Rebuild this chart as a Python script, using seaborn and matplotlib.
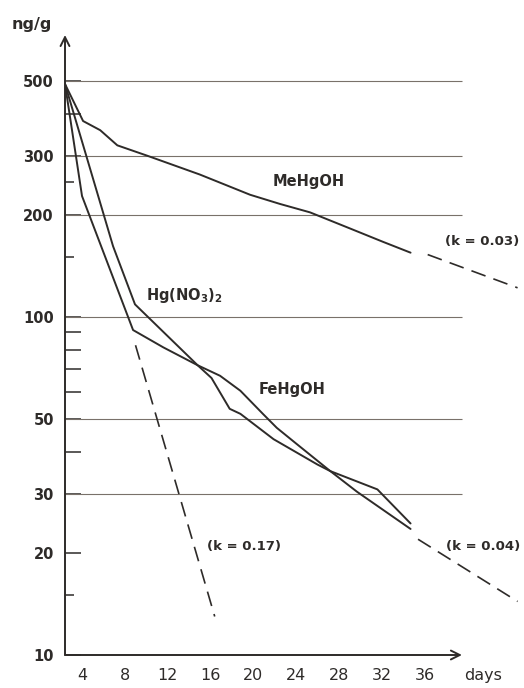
import matplotlib
matplotlib.use("Agg")
import matplotlib.pyplot as plt
from matplotlib.ticker import FixedLocator, NullFormatter, NullLocator
import seaborn as sns
import pandas as pd

# values (days, ng/g)
days_me = [2.41, 4.1, 5.7, 7.3, 10.1, 15.0, 19.7, 22.5, 25.3, 29.0, 32.1, 34.7]
conc_me = [489, 380, 357, 322, 300, 264, 230, 216, 204, 183, 167, 155]

days_hg = [2.41, 6.9, 8.95, 14.8, 16.1, 17.8, 18.8, 21.9, 26.0, 27.2, 29.7, 34.7]
conc_hg = [489, 162, 109, 72, 66, 53.5, 51.7, 43.5, 36.6, 35, 30.4, 23.6]

days_fe = [2.41, 4.0, 8.77, 11.6, 14.8, 16.9, 18.8, 20.9, 22.2, 24.1, 27.2, 31.6, 34.7]
conc_fe = [489, 228, 91.5, 81.3, 72, 67, 60.5, 51.7, 47, 42, 35, 30.9, 24.5]

# extrapolated first-order fits (dashed)
fit_me_days = [36.3, 44.7]
fit_me_conc = [153, 122]
fit_017_days = [9.0, 16.4]
fit_017_conc = [82.5, 13.0]
fit_004_days = [35.4, 44.7]
fit_004_conc = [22.0, 14.4]

xtick_vals = [4, 8, 12, 16, 20, 24, 28, 32, 36]
ytick_vals = [10, 20, 30, 50, 100, 200, 300, 500]
ytick_long = [40, 60, 70, 80, 90, 400]
ytick_short = [15, 150, 250]
grid_levels = [30, 50, 100, 200, 300, 500]

sns.set_theme(style="white")
plt.rcParams['font.family'] = ['DejaVu Sans']

ink = '#2e2b29'
grid_col = '#79716a'

df = pd.concat([
    pd.DataFrame({'day': days_me, 'conc': conc_me, 'series': 'MeHgOH'}),
    pd.DataFrame({'day': days_hg, 'conc': conc_hg, 'series': 'Hg(NO3)2'}),
    pd.DataFrame({'day': days_fe, 'conc': conc_fe, 'series': 'FeHgOH'}),
])
fits = pd.concat([
    pd.DataFrame({'day': fit_me_days, 'conc': fit_me_conc, 'series': 'k0.03'}),
    pd.DataFrame({'day': fit_017_days, 'conc': fit_017_conc, 'series': 'k0.17'}),
    pd.DataFrame({'day': fit_004_days, 'conc': fit_004_conc, 'series': 'k0.04'}),
])

fig = plt.figure(figsize=(5.24, 6.88), dpi=100)
ax = fig.add_axes([65 / 524, 1 - 655 / 688, (524 - 65) / 524, 625 / 688])
ax.set_yscale('log')
x0, x_end = 2.41, 39.5

ax.hlines(grid_levels, x0, x_end, color=grid_col, lw=0.8, zorder=1)

sns.lineplot(data=df, x='day', y='conc', units='series', estimator=None, sort=False,
             color=ink, lw=1.4, ax=ax, zorder=3)
sns.lineplot(data=fits, x='day', y='conc', units='series', estimator=None, sort=False,
             color=ink, lw=1.2, linestyle=(0, (9, 5)), ax=ax, zorder=3)

ax.set_xlim(x0, 45.3)
ax.set_ylim(10, 10 ** (1 + 625 / 338))
for s in ax.spines.values():
    s.set_visible(False)
ax.grid(False)

# axes drawn as arrows
arrow = dict(arrowstyle='->', lw=1.4, color=ink, shrinkA=0, shrinkB=0, mutation_scale=16)
ax.annotate('', xy=(x_end, 10), xytext=(x0, 10), arrowprops=arrow, annotation_clip=False)
ax.annotate('', xy=(x0, 10 ** (1 + 620 / 338)), xytext=(x0, 10), arrowprops=arrow,
            annotation_clip=False)

ax.set_xticks(xtick_vals)
ax.set_xticklabels([str(v) for v in xtick_vals], fontsize=11.5, color=ink)
ax.tick_params(axis='x', length=0, pad=9)

ax.yaxis.set_major_locator(FixedLocator(ytick_vals))
ax.set_yticklabels([str(v) for v in ytick_vals], fontsize=10.5, fontweight='bold', color=ink)
ax.yaxis.set_minor_locator(FixedLocator(ytick_long))
ax.yaxis.set_minor_formatter(NullFormatter())
ax.tick_params(axis='y', which='both', left=True, direction='in', length=11.5,
               width=1.1, color=ink, pad=8)

sec = ax.secondary_yaxis('left')
sec.set_yticks(ytick_short)
sec.yaxis.set_minor_locator(NullLocator())
sec.tick_params(axis='y', which='both', left=True, direction='in', length=6.5, width=1.1,
                color=ink, labelleft=False)
for s in sec.spines.values():
    s.set_visible(False)

ax.set_xlabel('days', fontsize=11.5, color=ink)
ax.xaxis.set_label_coords(0.911, -0.0205)
ax.set_ylabel('')
fig.text(32 / 524, 1 - 24 / 688, 'ng/g', fontsize=11.5, fontweight='bold', color=ink,
         ha='center', va='center')

lab = dict(fontsize=10.5, fontweight='bold', color=ink, ha='center', va='center')
ax.text(25.2, 251, 'MeHgOH', **lab)
ax.text(13.6, 116, r'Hg(NO$_{\mathbf{3}}$)$_{\mathbf{2}}$', **lab)
ax.text(23.6, 61.2, 'FeHgOH', **lab)
klab = dict(fontsize=9.5, fontweight='bold', color=ink, ha='center', va='center')
ax.text(41.4, 167, '(k = 0.03)', **klab)
ax.text(19.1, 21, '(k = 0.17)', **klab)
ax.text(41.5, 21, '(k = 0.04)', **klab)

fig.savefig('out.png', dpi=100, facecolor='white')
